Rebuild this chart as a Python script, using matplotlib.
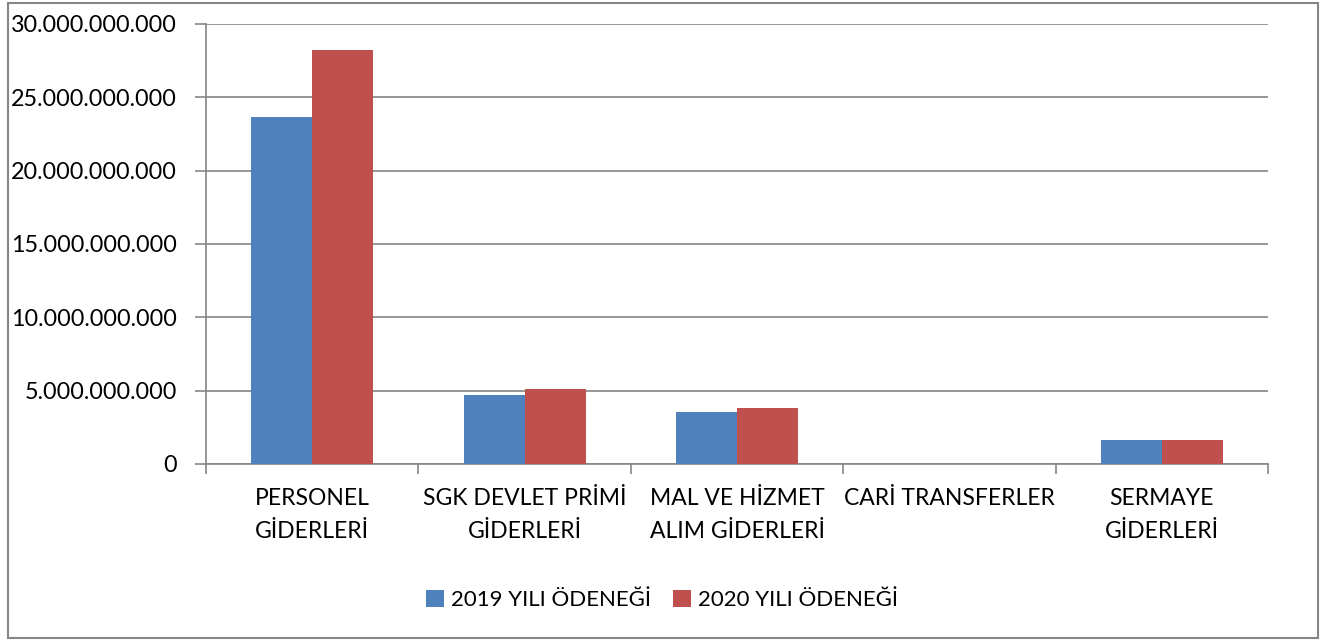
import numpy as np
import matplotlib
matplotlib.use('Agg')
import matplotlib.pyplot as plt
from matplotlib.ticker import FuncFormatter, FixedLocator
from matplotlib.patches import Rectangle

# Data
categories = ['PERSONEL\nGİDERLERİ', 'SGK DEVLET PRİMİ\nGİDERLERİ', 'MAL VE HİZMET\nALIM GİDERLERİ',
              'CARİ TRANSFERLER', 'SERMAYE\nGİDERLERİ']
odenek_2019 = [23.66e9, 4.70e9, 3.55e9, 0.0, 1.64e9]
odenek_2020 = [28.25e9, 5.11e9, 3.82e9, 0.0, 1.64e9]
series_names = ['2019 YILI ÖDENEĞİ', '2020 YILI ÖDENEĞİ']

plt.rcParams['font.family'] = ['Lato', 'DejaVu Sans']

fig = plt.figure(figsize=(13.27, 6.44), dpi=100)
ax = fig.add_axes([206 / 1327, 1 - 464 / 644, (1268 - 206) / 1327, (464 - 24) / 644])

x = np.arange(len(categories))
w = 0.287
ax.bar(x - w / 2, odenek_2019, w, color='#4F81BD', label=series_names[0], zorder=3)
ax.bar(x + w / 2, odenek_2020, w, color='#C0504D', label=series_names[1], zorder=3)

ax.set_xlim(-0.5, len(categories) - 0.5)
ax.set_ylim(0, 30e9)
ax.set_yticks(np.arange(0, 30e9 + 1, 5e9))
ax.yaxis.set_major_formatter(FuncFormatter(lambda v, p: f'{int(v):,}'.replace(',', '.')))
ax.yaxis.grid(True, color='#868686', linewidth=1.2, zorder=0)

# category labels centred, tick marks at the boundaries
ax.set_xticks(x)
ax.set_xticklabels(categories, fontsize=16.5, linespacing=1.75)
ax.tick_params(axis='x', which='major', length=0, pad=17)
ax.xaxis.set_minor_locator(FixedLocator(np.arange(-0.5, len(categories), 1.0)))
ax.tick_params(axis='x', which='minor', length=7, width=1.2, color='#868686')
ax.tick_params(axis='y', length=8, width=1.2, color='#868686', labelsize=16.8, pad=13)

for s in ['top', 'right']:
    ax.spines[s].set_visible(False)
for s in ['left', 'bottom']:
    ax.spines[s].set_color('#868686')
    ax.spines[s].set_linewidth(1.2)

ax.legend(loc='center', bbox_to_anchor=(662 / 1327, 1 - 600 / 644), bbox_transform=fig.transFigure,
          ncol=2, frameon=False, fontsize=16, handlelength=0.8, handleheight=0.8,
          handletextpad=0.3, columnspacing=1.0)

# outer chart border
fig.patches.append(Rectangle((8 / 1327, 1 - 638 / 644), (1318 - 8) / 1327, (638 - 3) / 644,
                             transform=fig.transFigure, fill=False, edgecolor='#868686', linewidth=1.5))

fig.savefig('out.png', dpi=100)
